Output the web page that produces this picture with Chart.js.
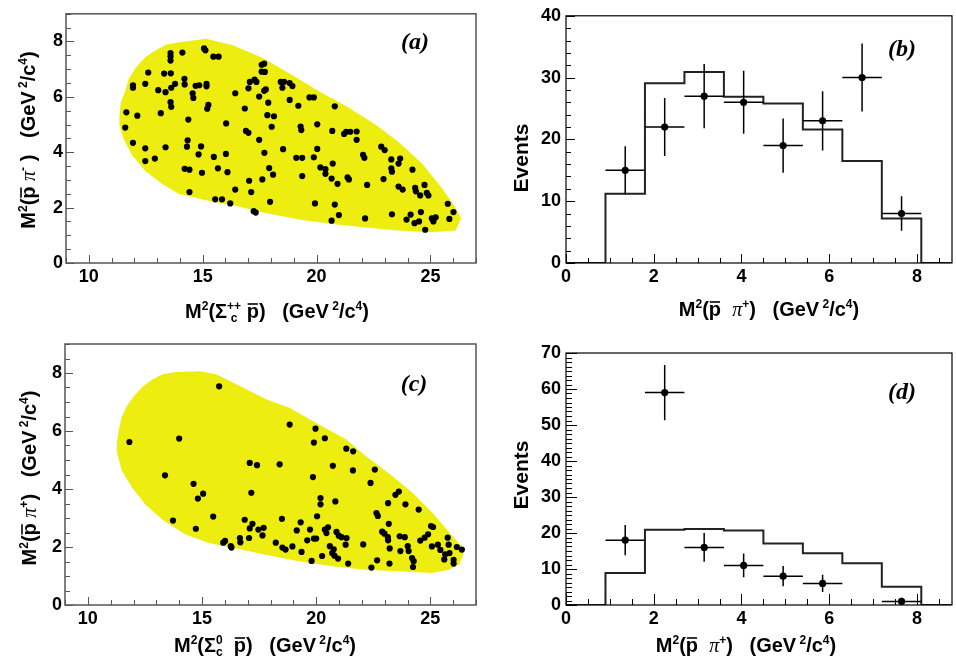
<!DOCTYPE html>
<html>
<head>
<meta charset="utf-8">
<script src="https://cdn.jsdelivr.net/npm/chart.js@4.4.0/dist/chart.umd.min.js"></script>
<style>
  html, body { margin: 0; padding: 0; background: #fff; }
  #wrap { position: relative; width: 956px; height: 663px; overflow: hidden; }
  canvas { position: absolute; }
</style>
</head>
<body>
<div id="wrap">
  <canvas id="ca" width="480" height="330" style="left:0;top:0"></canvas>
  <canvas id="cb" width="476" height="330" style="left:480px;top:0"></canvas>
  <canvas id="cc" width="480" height="333" style="left:0;top:330px"></canvas>
  <canvas id="cd" width="476" height="333" style="left:480px;top:330px"></canvas>
</div>
<script>
// ---- panel (a): phase space outline and data points ----
const aEdgeX = [11.39, 11.45, 11.65, 11.80, 12.09, 12.50, 12.96, 13.40, 13.98, 15.15, 16.31, 17.62, 18.94, 20.10, 21.27, 22.59, 23.60, 24.60, 25.50, 26.08, 26.30, 26.08, 25.06, 23.60, 22.15, 20.69, 19.23, 17.77, 16.31, 15.15, 13.98, 13.25, 12.52, 11.94, 11.57, 11.39];
const aEdgeY = [5.30, 5.80, 6.22, 6.65, 7.02, 7.40, 7.65, 7.85, 7.94, 8.06, 7.83, 7.37, 6.74, 6.16, 5.64, 4.95, 4.32, 3.57, 2.65, 1.96, 1.61, 1.21, 1.15, 1.21, 1.32, 1.44, 1.61, 1.84, 2.13, 2.30, 2.53, 2.88, 3.34, 3.91, 4.49, 4.97];

const aPtsX = [11.65, 11.60, 11.94, 11.94, 12.13, 11.94, 12.48, 12.48, 12.48, 12.61, 12.90, 13.05, 13.16, 13.31, 13.37, 13.37, 13.59, 13.59, 13.59, 13.60,
  13.62, 13.59, 13.62, 13.79, 14.11, 14.20, 14.21, 14.37, 14.34, 14.31, 14.21, 14.42, 14.42, 14.56, 14.59, 14.69, 14.85, 14.82, 14.93, 14.97,
  15.06, 15.12, 15.17, 15.17, 15.20, 15.25, 15.47, 15.70, 15.49, 15.67, 15.55, 15.85, 16.02, 16.03, 16.09, 16.21, 16.43, 16.43, 16.85, 16.90,
  17.01, 17.04, 17.01, 17.07, 17.13, 17.28, 17.36, 17.24, 17.33, 17.48, 17.48, 17.59, 17.70, 17.59, 17.73, 17.70, 17.77, 17.62, 17.71, 17.88,
  17.84, 17.92, 17.96, 18.03, 18.09, 18.13, 18.43, 18.57, 18.50, 18.53, 18.82, 18.94, 18.82, 19.11, 19.20, 19.30, 19.33, 19.37, 19.37, 19.69,
  19.88, 19.88, 19.93, 20.03, 20.03, 20.17, 20.39, 20.39, 20.66, 20.71, 20.69, 20.80, 20.80, 20.66, 20.92, 20.98, 21.21, 21.30, 21.48, 21.36,
  21.42, 21.76, 21.76, 22.04, 22.10, 22.22, 22.13, 22.84, 22.99, 22.94, 23.28, 23.28, 23.31, 23.31, 23.60, 23.67, 23.60, 23.78, 23.95, 24.13,
  24.21, 24.30, 24.33, 24.36, 24.50, 24.55, 24.58, 24.74, 24.84, 24.77, 24.91, 25.06, 25.13, 25.23, 25.76, 25.83, 26.01];
const aPtsY = [5.44, 4.89, 6.42, 6.33, 5.32, 4.34, 6.47, 4.14, 3.68, 6.88, 3.77, 6.24, 5.41, 6.84, 6.17, 4.18, 7.58, 7.46, 7.31, 6.85,
  6.33, 5.81, 5.64, 6.47, 7.60, 6.65, 6.45, 5.18, 4.43, 4.20, 3.40, 3.37, 2.56, 6.13, 5.96, 6.40, 6.42, 3.92, 4.21, 3.26,
  7.75, 7.68, 6.47, 6.38, 5.57, 5.71, 7.45, 7.45, 3.83, 3.42, 2.30, 2.30, 3.94, 5.04, 3.28, 2.15, 6.13, 2.65, 5.58, 4.77,
  4.70, 2.97, 6.31, 6.54, 2.56, 6.62, 6.54, 1.87, 1.82, 6.01, 4.45, 7.16, 7.20, 6.91, 6.90, 6.22, 6.27, 3.02, 3.98, 5.79,
  5.34, 3.43, 2.21, 4.92, 3.19, 5.30, 6.54, 6.54, 6.33, 4.11, 6.50, 6.39, 5.89, 3.80, 5.68, 4.93, 4.80, 3.80, 3.14, 5.98,
  5.98, 3.82, 2.15, 5.01, 4.12, 3.45, 3.39, 3.22, 3.05, 3.59, 4.77, 5.66, 2.11, 1.53, 2.86, 1.73, 4.66, 4.74, 4.74, 3.09,
  3.02, 4.75, 4.45, 3.91, 3.80, 2.82, 1.61, 4.20, 4.08, 3.03, 3.74, 3.42, 3.30, 1.76, 2.76, 3.77, 3.59, 2.65, 1.57, 1.75,
  3.37, 1.44, 2.71, 2.59, 1.50, 2.44, 1.84, 2.82, 2.53, 1.20, 2.44, 1.61, 1.50, 1.65, 2.14, 1.59, 1.84];

// ---- panel (c) ----
const cEdgeX = [11.31, 11.40, 11.53, 11.75, 12.04, 12.40, 12.84, 13.30, 13.86, 14.88, 15.61, 16.63, 17.79, 18.81, 19.98, 21.29, 22.16, 23.32, 24.20, 25.07, 25.95, 26.46, 26.24, 25.80, 25.07, 23.62, 22.16, 20.70, 19.25, 17.79, 16.33, 15.31, 14.30, 13.28, 12.55, 11.97, 11.53, 11.33];
const cEdgeY = [5.56, 6.05, 6.48, 6.85, 7.17, 7.48, 7.75, 7.92, 8.00, 8.03, 7.92, 7.52, 7.06, 6.77, 6.25, 5.68, 5.10, 4.41, 3.84, 3.15, 2.34, 1.89, 1.43, 1.25, 1.14, 1.20, 1.25, 1.37, 1.54, 1.77, 2.02, 2.17, 2.46, 2.98, 3.49, 4.07, 4.64, 5.22];

const cPtsX = [15.75, 11.82, 14.00, 13.38, 14.63, 14.82, 15.05, 13.73, 14.73, 15.49, 15.93, 16.01, 16.26, 16.29, 16.66, 16.68, 16.87, 17.06, 17.09, 17.09,
  17.16, 17.21, 17.41, 17.47, 17.65, 17.70, 18.23, 18.40, 18.50, 18.52, 18.66, 18.84, 18.96, 19.15, 19.32, 19.36, 19.61, 19.73, 19.80, 19.86,
  19.90, 19.90, 19.97, 20.00, 20.04, 20.19, 20.19, 20.26, 20.38, 20.38, 20.45, 20.52, 20.60, 20.70, 20.73, 20.77, 20.80, 20.84, 20.89, 20.96,
  20.99, 21.11, 21.29, 21.32, 21.33, 21.40, 21.62, 21.61, 22.06, 22.38, 22.42, 22.57, 22.64, 22.70, 22.67, 22.89, 22.99, 23.15, 23.14, 23.15,
  23.18, 23.22, 23.21, 23.47, 23.62, 23.66, 23.69, 23.88, 23.91, 24.01, 24.05, 24.20, 24.27, 24.24, 24.49, 24.56, 24.75, 24.90, 25.03, 25.12,
  25.07, 25.33, 25.44, 25.65, 25.76, 25.80, 25.84, 25.61, 26.02, 26.02, 26.16, 26.38];
const cPtsY = [7.54, 5.62, 5.74, 4.47, 4.18, 3.67, 3.84, 2.91, 2.63, 3.05, 2.15, 2.21, 2.03, 1.98, 2.31, 2.16, 2.94, 2.31, 2.64, 4.90,
  3.87, 2.80, 4.82, 2.60, 2.40, 2.66, 2.15, 4.85, 2.97, 1.98, 1.91, 6.22, 2.02, 2.57, 2.85, 1.83, 2.23, 2.60, 1.52, 4.41,
  5.60, 2.29, 6.08, 2.29, 3.06, 3.69, 3.47, 1.69, 5.75, 2.60, 2.48, 2.68, 2.03, 1.79, 4.80, 1.92, 1.70, 3.57, 2.52, 1.60,
  2.39, 2.34, 2.08, 5.39, 2.31, 1.43, 5.30, 4.64, 2.09, 4.21, 1.29, 4.67, 3.17, 3.07, 1.54, 2.53, 2.46, 3.51, 2.34, 2.23,
  2.80, 1.95, 1.43, 3.80, 3.91, 2.37, 1.86, 2.34, 3.47, 2.03, 1.86, 1.62, 1.51, 1.31, 3.29, 2.22, 2.32, 2.44, 2.72, 2.69,
  2.02, 2.08, 1.90, 1.75, 2.32, 2.08, 1.79, 1.57, 1.56, 1.43, 2.00, 1.91];

// ---- histograms (b) and (d) ----
const binEdges = [0.9, 1.8, 2.7, 3.6, 4.5, 5.4, 6.3, 7.2, 8.1];
const bHist = [11.2, 29.1, 30.9, 26.9, 25.8, 21.6, 16.5, 7.2];
const bDataX = [1.35, 2.25, 3.15, 4.05, 4.95, 5.85, 6.75, 7.65];
const bDataY = [15, 22, 27, 26, 19, 23, 30, 8];
const bErr = [3.9, 4.7, 5.2, 5.1, 4.4, 4.8, 5.5, 2.8];

const dHist = [8.9, 20.9, 21.1, 20.7, 17.1, 14.4, 11.6, 5.1];
const dDataX = [1.35, 2.25, 3.15, 4.05, 4.95, 5.85, 7.65];
const dDataY = [18, 59, 16, 11, 8, 6, 1];
const dErr = [4.2, 7.7, 4.0, 3.3, 2.8, 2.4, 1.0];
const halfBin = 0.45;

const YELLOW = '#eded10';
const SANS = '"Liberation Sans", Arial, sans-serif';
const TICK_SIZE = 18;
const TITLE_SIZE = 20;

// helpers to turn the arrays into point lists
function zip(xs, ys) { return xs.map((x, i) => ({ x: x, y: ys[i] })); }
function closed(xs, ys) { const p = zip(xs, ys); p.push(p[0]); return p; }
function stepPts(edges, vals, xMax) {
  const pts = [{ x: 0, y: 0 }];
  vals.forEach((v, i) => pts.push({ x: edges[i], y: v }));
  pts.push({ x: edges[edges.length - 1], y: 0 });
  pts.push({ x: xMax, y: 0 });
  return pts;
}
function vBars(xs, ys, es) {
  const pts = [];
  xs.forEach((x, i) => pts.push({ x: x, y: ys[i] - es[i] }, { x: x, y: ys[i] + es[i] }, { x: x, y: null }));
  return pts;
}
function hBars(xs, ys) {
  const pts = [];
  xs.forEach((x, i) => pts.push({ x: x - halfBin, y: ys[i] }, { x: x + halfBin, y: ys[i] }, { x: x, y: null }));
  return pts;
}

// rich text for axis titles (superscripts, subscripts, bars)
function drawRich(ctx, parts, cx, cy, size, rotate) {
  ctx.save();
  ctx.translate(cx, cy);
  if (rotate) ctx.rotate(-Math.PI / 2);
  const small = Math.round(size * 0.62);
  const big = 'bold ' + size + 'px ' + SANS;
  const sm = 'bold ' + small + 'px ' + SANS;
  const pif = 'italic ' + size + 'px "Liberation Serif", serif';
  const items = parts.map(p => {
    const k = p[0];
    let w;
    if (k === 'n' || k === 'bar') { ctx.font = big; w = ctx.measureText(p[1]).width; }
    else if (k === 'pi') { ctx.font = pif; w = ctx.measureText(p[1]).width; }
    else if (k === 'stack') { ctx.font = sm; w = Math.max(ctx.measureText(p[1]).width, ctx.measureText(p[2]).width); }
    else { ctx.font = sm; w = ctx.measureText(p[1]).width; }
    return { k: k, a: p[1], b: p[2], w: w };
  });
  const total = items.reduce((s, it) => s + it.w, 0);
  let x = -total / 2;
  ctx.fillStyle = '#000';
  ctx.strokeStyle = '#000';
  ctx.textAlign = 'left';
  ctx.textBaseline = 'alphabetic';
  items.forEach(it => {
    if (it.k === 'n') { ctx.font = big; ctx.fillText(it.a, x, 0); }
    else if (it.k === 'bar') {
      ctx.font = big; ctx.fillText(it.a, x, 0);
      ctx.lineWidth = 1.6;
      ctx.beginPath(); ctx.moveTo(x + 1, -size * 0.7); ctx.lineTo(x + it.w - 1, -size * 0.7); ctx.stroke();
    }
    else if (it.k === 'pi') { ctx.font = pif; ctx.fillText(it.a, x, 0); }
    else if (it.k === 'sup') { ctx.font = sm; ctx.fillText(it.a, x, -size * 0.42); }
    else if (it.k === 'sub') { ctx.font = sm; ctx.fillText(it.a, x, size * 0.2); }
    else if (it.k === 'stack') {
      ctx.font = sm;
      ctx.fillText(it.a, x, -size * 0.42);
      ctx.fillText(it.b, x + (it.w - ctx.measureText(it.b).width) / 2, size * 0.22);
    }
    x += it.w;
  });
  ctx.restore();
}

function onStep(v, step) { const r = v / step; return Math.abs(r - Math.round(r)) < 1e-6; }

// frame, inward ticks, titles and panel letter
function makeDecor(cfg) {
  return {
    id: 'decor',
    afterDraw(chart) {
      const ctx = chart.ctx, a = chart.chartArea, xs = chart.scales.x, ys = chart.scales.y;
      ctx.save();
      ctx.strokeStyle = cfg.frame;
      ctx.lineWidth = 1;
      xs.ticks.forEach(t => {
        if (!onStep(t.value, cfg.xMinor)) return;
        const len = onStep(t.value, cfg.xMajor) ? cfg.major : cfg.minor;
        const px = Math.round(xs.getPixelForValue(t.value)) + 0.5;
        ctx.beginPath(); ctx.moveTo(px, a.bottom); ctx.lineTo(px, a.bottom - len); ctx.stroke();
      });
      ys.ticks.forEach(t => {
        if (!onStep(t.value, cfg.yMinor)) return;
        const len = onStep(t.value, cfg.yMajor) ? cfg.major : cfg.minor;
        const py = Math.round(ys.getPixelForValue(t.value)) + 0.5;
        ctx.beginPath(); ctx.moveTo(a.left, py); ctx.lineTo(a.left + len, py); ctx.stroke();
      });
      ctx.lineWidth = cfg.frameWidth;
      ctx.strokeRect(a.left, a.top, a.right - a.left, a.bottom - a.top);
      drawRich(ctx, cfg.xTitle, cfg.xTitleAt[0], cfg.xTitleAt[1], TITLE_SIZE, false);
      drawRich(ctx, cfg.yTitle, cfg.yTitleAt[0], cfg.yTitleAt[1], cfg.yTitleSize || TITLE_SIZE, true);
      ctx.font = 'italic bold 24px "Liberation Serif", serif';
      ctx.fillStyle = '#000';
      ctx.textAlign = 'center';
      ctx.textBaseline = 'middle';
      ctx.fillText(cfg.label, cfg.labelAt[0], cfg.labelAt[1]);
      ctx.restore();
    }
  };
}

function axis(min, max, step, major, size, pad, isX) {
  return {
    type: 'linear', min: min, max: max,
    grid: { display: false, drawTicks: false },
    border: { display: false },
    afterFit: s => { if (isX) s.height = size; else s.width = size; },
    ticks: {
      stepSize: step, autoSkip: false, includeBounds: false,
      maxRotation: 0, minRotation: 0, padding: pad, color: '#000',
      font: { family: SANS, size: TICK_SIZE, weight: 'bold' },
      callback: v => onStep(v, major) ? String(v) : ''
    }
  };
}

function scatterPanel(id, edgeX, edgeY, ptsX, ptsY, pad, xh, yw, decor) {
  new Chart(document.getElementById(id), {
    type: 'scatter',
    data: {
      datasets: [
        { data: zip(ptsX, ptsY), pointRadius: 3.1, pointBackgroundColor: '#000', pointBorderWidth: 0, order: 1 },
        { data: closed(edgeX, edgeY), showLine: true, fill: 'shape', tension: 0, pointRadius: 0,
          borderColor: YELLOW, borderWidth: 2, backgroundColor: YELLOW, order: 2 }
      ]
    },
    options: {
      responsive: false, animation: false, events: [],
      layout: { padding: pad },
      plugins: { legend: { display: false }, tooltip: { enabled: false } },
      scales: { x: axis(9, 27, 1, 5, xh, 3, true), y: axis(0, 9, 0.5, 2, yw, 3, false) }
    },
    plugins: [makeDecor(decor)]
  });
}

function histPanel(id, hist, dx, dy, de, yMax, yStep, pad, xh, yw, decor) {
  new Chart(document.getElementById(id), {
    type: 'scatter',
    data: {
      datasets: [
        { data: zip(dx, dy), pointRadius: 3.6, pointBackgroundColor: '#000', pointBorderWidth: 0, order: 1 },
        { data: vBars(dx, dy, de), showLine: true, pointRadius: 0, borderColor: '#000', borderWidth: 1.5, order: 2 },
        { data: hBars(dx, dy), showLine: true, pointRadius: 0, borderColor: '#000', borderWidth: 1.5, order: 3 },
        { data: stepPts(binEdges, hist, 8.8), showLine: true, stepped: 'before', pointRadius: 0,
          borderColor: '#222', borderWidth: 2, fill: false, order: 4 }
      ]
    },
    options: {
      responsive: false, animation: false, events: [],
      layout: { padding: pad },
      plugins: { legend: { display: false }, tooltip: { enabled: false } },
      scales: { x: axis(0, 8.8, 0.5, 2, xh, 3, true), y: axis(0, yMax, yStep, 10, yw, 5, false) }
    },
    plugins: [makeDecor(decor)]
  });
}

const GEV = [['n', ')   (GeV'], ['sup', ' 2'], ['n', '/c'], ['sup', '4'], ['n', ')']];
const titleA_x = [['n', 'M'], ['sup', '2'], ['n', '(Σ'], ['stack', '++', 'c'], ['n', ' '], ['bar', 'p']].concat(GEV);
const titleA_y = [['n', 'M'], ['sup', '2'], ['n', '('], ['bar', 'p'], ['n', ' '], ['pi', 'π'], ['sup', '-'], ['n', ' ']].concat(GEV);
const titleC_x = [['n', 'M'], ['sup', '2'], ['n', '(Σ'], ['stack', '0', 'c'], ['n', '  '], ['bar', 'p']].concat(GEV);
const titleC_y = [['n', 'M'], ['sup', '2'], ['n', '('], ['bar', 'p'], ['n', ' '], ['pi', 'π'], ['sup', '+']].concat(GEV);
const titleH_x = [['n', 'M'], ['sup', '2'], ['n', '('], ['bar', 'p'], ['n', '  '], ['pi', 'π'], ['sup', '+']].concat(GEV);
const titleEv = [['n', 'Events']];

scatterPanel('ca', aEdgeX, aEdgeY, aPtsX, aPtsY, { left: 0, top: 3, right: 3, bottom: 0 }, 67, 66, {
  frame: '#555', frameWidth: 1.5, xMinor: 1, xMajor: 5, yMinor: 0.5, yMajor: 2, major: 8, minor: 5,
  xTitle: titleA_x, xTitleAt: [277, 318], yTitle: titleA_y, yTitleAt: [35, 140],
  label: '(a)', labelAt: [415, 43]
});
scatterPanel('cc', cEdgeX, cEdgeY, cPtsX, cPtsY, { left: 0, top: 14, right: 3, bottom: 0 }, 58, 65, {
  frame: '#555', frameWidth: 1.5, xMinor: 1, xMajor: 5, yMinor: 0.5, yMajor: 2, major: 8, minor: 5,
  xTitle: titleC_x, xTitleAt: [265, 322], yTitle: titleC_y, yTitleAt: [36, 148],
  label: '(c)', labelAt: [414, 55]
});
histPanel('cb', bHist, bDataX, bDataY, bErr, 40, 2, { left: 0, top: 11, right: 1, bottom: 0 }, 67, 86, {
  frame: '#000', frameWidth: 1.2, xMinor: 0.5, xMajor: 2, yMinor: 2, yMajor: 10, major: 9, minor: 5,
  xTitle: titleH_x, xTitleAt: [289, 316], yTitle: titleEv, yTitleAt: [48, 158], yTitleSize: 21,
  label: '(b)', labelAt: [422, 50]
});
histPanel('cd', dHist, dDataX, dDataY, dErr, 70, 1.25, { left: 0, top: 23, right: 1, bottom: 0 }, 58, 86, {
  frame: '#000', frameWidth: 1.2, xMinor: 0.5, xMajor: 2, yMinor: 1.25, yMajor: 10, major: 11, minor: 6,
  xTitle: titleH_x, xTitleAt: [266, 322], yTitle: titleEv, yTitleAt: [48, 145], yTitleSize: 21,
  label: '(d)', labelAt: [422, 63]
});
</script>
</body>
</html>
